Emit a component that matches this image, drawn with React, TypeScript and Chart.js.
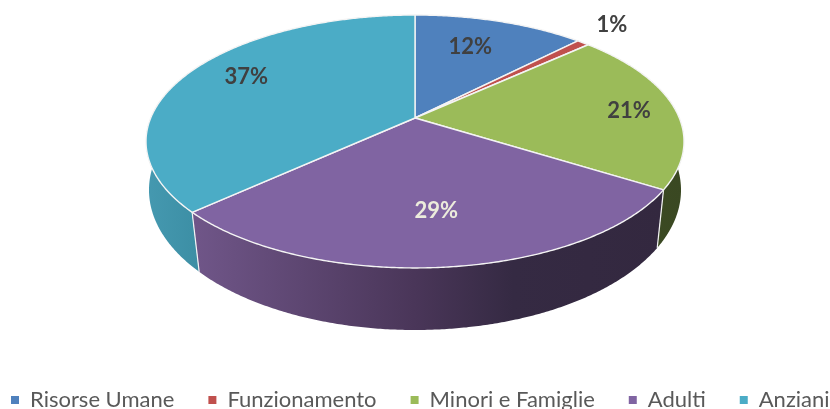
import React, { useEffect, useRef } from "react";
import { Chart, registerables } from "chart.js";

Chart.register(...registerables);

const categories = ["Risorse Umane", "Funzionamento", "Minori e Famiglie", "Adulti", "Anziani"];
const shares = [12.3, 0.9, 20.7, 29.3, 36.8];

const topColors = ["#4F81BD", "#C0504D", "#9BBB59", "#8064A2", "#4BACC6"];
const wallStops: string[][] = [
  ["#3b6593", "#2f5078"],
  ["#8f3b39", "#7a3230"],
  ["#3c4b23", "#3a4822"],
  ["#705689", "#4a3659", "#352a43", "#33283f"],
  ["#4599b0", "#3b8da3"],
];
const labelRadius = [0.69, 1.24, 0.82, 0.67, 0.77];
const labelTurn = [-2.3, -1.5, 1.2, -0.8, 4];
const labelColors = ["#404040", "#404040", "#404040", "#ECECDC", "#404040"];

// Perspective view of the disc
const TOP = { cx: 415, cy: 118, a: 264.3, b: 122.1, k: 0.1857 };
const BOTTOM = { cx: 415, cy: 169, a: 263, b: 136.85, k: 0.15 };
const WALL_FROM = Math.PI / 3;
const WALL_TO = (Math.PI * 5) / 3;

type Face = typeof TOP;

function project(f: Face, theta: number, r = 1) {
  const u = r * Math.sin(theta);
  const v = -r * Math.cos(theta);
  const w = 1 - f.k * v;
  return { x: f.cx + (f.a * u) / w, y: f.cy + (f.b * v) / w };
}

function curve(f: Face, from: number, to: number) {
  const n = Math.max(2, Math.ceil(Math.abs(to - from) / 0.008));
  const pts = [];
  for (let i = 0; i <= n; i++) pts.push(project(f, from + ((to - from) * i) / n));
  return pts;
}

const pie3d = {
  id: "pie3d",
  beforeDatasetDraw(chart: any) {
    const ctx: CanvasRenderingContext2D = chart.ctx;
    const arcs = chart.getDatasetMeta(0).data;
    const angles = arcs.map((arc: any) => [arc.startAngle + Math.PI / 2, arc.endAngle + Math.PI / 2]);
    ctx.save();
    ctx.lineJoin = "round";

    // side walls
    angles.forEach(([s, e]: number[], i: number) => {
      const from = Math.max(s, WALL_FROM);
      const to = Math.min(e, WALL_TO);
      if (to <= from) return;
      const upper = curve(TOP, from, to);
      const lower = curve(BOTTOM, to, from);
      const all = upper.concat(lower);
      const xs = all.map((p) => p.x);
      const g = ctx.createLinearGradient(Math.min(...xs), 0, Math.max(...xs), 0);
      const stops = wallStops[i];
      const pos = stops.length === 4 ? [0, 0.47, 0.68, 1] : [0, 1];
      stops.forEach((c, j) => g.addColorStop(pos[j], c));
      ctx.beginPath();
      all.forEach((p, j) => (j ? ctx.lineTo(p.x, p.y) : ctx.moveTo(p.x, p.y)));
      ctx.closePath();
      ctx.fillStyle = g;
      ctx.fill();
    });

    // seams of the walls
    ctx.strokeStyle = "#F4F4F4";
    ctx.lineWidth = 1.2;
    angles.forEach(([s]: number[]) => {
      if (s <= WALL_FROM + 1 || s >= WALL_TO - 1) return;
      const a = project(TOP, s);
      const b = project(BOTTOM, s);
      ctx.beginPath();
      ctx.moveTo(a.x, a.y);
      ctx.lineTo(b.x, b.y);
      ctx.stroke();
    });

    // top face
    ctx.lineWidth = 1.4;
    angles.forEach(([s, e]: number[], i: number) => {
      ctx.beginPath();
      ctx.moveTo(TOP.cx, TOP.cy);
      curve(TOP, s, e).forEach((p) => ctx.lineTo(p.x, p.y));
      ctx.closePath();
      ctx.fillStyle = topColors[i];
      ctx.fill();
      ctx.strokeStyle = "#F4F4F4";
      ctx.stroke();
    });

    // percentage labels
    ctx.font = "bold 22px Lato";
    ctx.textAlign = "center";
    ctx.textBaseline = "middle";
    angles.forEach(([s, e]: number[], i: number) => {
      const mid = (s + e) / 2 + (labelTurn[i] * Math.PI) / 180;
      const p = project(TOP, mid, labelRadius[i]);
      ctx.fillStyle = labelColors[i];
      ctx.fillText(`${Math.round(shares[i])}%`, p.x, p.y);
    });
    ctx.restore();
    return false;
  },
};

export default function App() {
  const ref = useRef<HTMLCanvasElement>(null);
  useEffect(() => {
    const chart = new Chart(ref.current!, {
      type: "pie",
      data: {
        labels: categories,
        datasets: [{ data: shares, backgroundColor: topColors, borderWidth: 0 }],
      },
      options: {
        responsive: false,
        animation: false,
        layout: { padding: { bottom: -12, left: -23, right: -150 } },
        plugins: {
          tooltip: { enabled: false },
          legend: {
            position: "bottom",
            align: "start",
            labels: {
              boxWidth: 8,
              boxHeight: 8,
              padding: 34,
              color: "#595959",
              font: { family: "Lato", size: 22 },
            },
          },
        },
      },
      plugins: [pie3d],
    } as any);
    return () => chart.destroy();
  }, []);
  return (
    <div style={{ position: "absolute", left: 0, top: 0, width: 830, height: 409 }}>
      <canvas ref={ref} width={830} height={409} style={{ display: "block" }} />
    </div>
  );
}
